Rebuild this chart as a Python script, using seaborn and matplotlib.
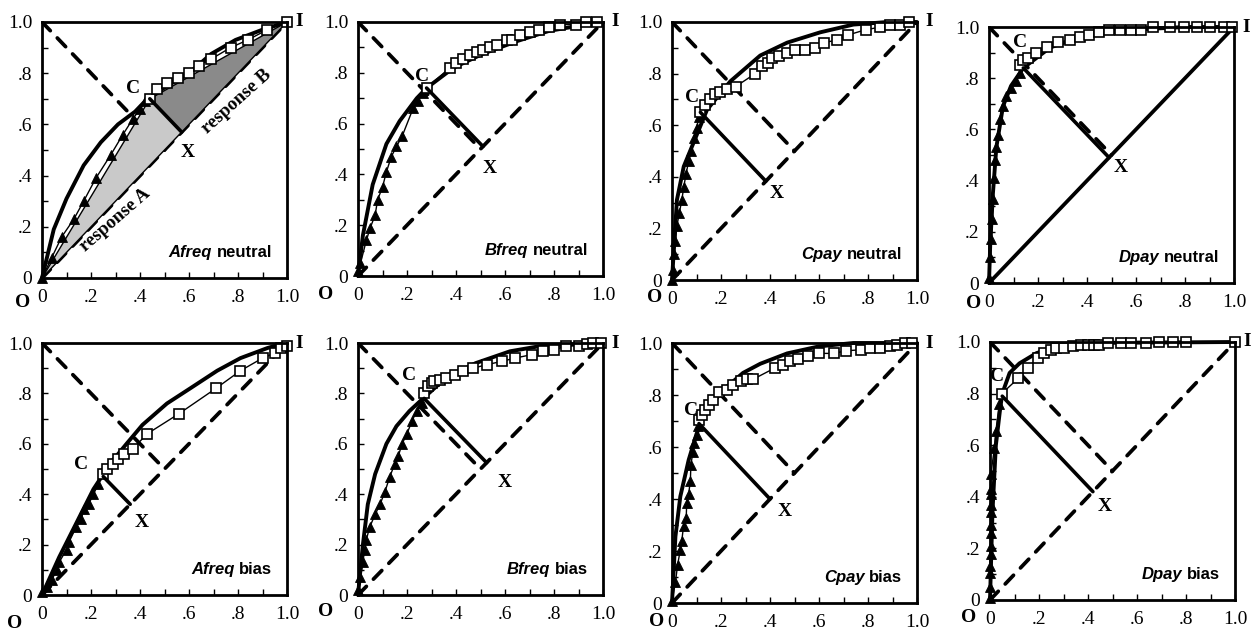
import numpy as np
import matplotlib
matplotlib.use("Agg")
import matplotlib.pyplot as plt
import seaborn as sns

# ---------------- data ----------------
panel_names = ["Afreq", "Bfreq", "Cpay", "Dpay", "Afreq", "Bfreq", "Cpay", "Dpay"]
panel_modes = ["neutral"] * 4 + ["bias"] * 4
tick_vals = [0, 0.2, 0.4, 0.6, 0.8, 1.0]
tick_labels = ["0", ".2", ".4", ".6", ".8", "1.0"]

# Afreq neutral
a_neu_curve_x = [0, 0.048, 0.10, 0.17, 0.24, 0.31, 0.38, 0.43, 0.51, 0.60, 0.69, 0.79, 0.90, 1.0]
a_neu_curve_y = [0, 0.19, 0.31, 0.44, 0.53, 0.60, 0.65, 0.70, 0.75, 0.80, 0.875, 0.93, 0.97, 1.0]
a_neu_tri_x = [0, 0.04, 0.08, 0.13, 0.17, 0.22, 0.28, 0.33, 0.37, 0.40, 0.42]
a_neu_tri_y = [0, 0.08, 0.16, 0.23, 0.30, 0.39, 0.48, 0.56, 0.62, 0.66, 0.69]
a_neu_sq_x = [0.44, 0.47, 0.51, 0.555, 0.60, 0.64, 0.69, 0.77, 0.84, 0.92, 1.0]
a_neu_sq_y = [0.70, 0.74, 0.76, 0.78, 0.80, 0.83, 0.855, 0.90, 0.93, 0.97, 1.0]
a_neu_c = (0.44, 0.70)

# Bfreq neutral
b_neu_curve_x = [0, 0.02, 0.06, 0.116, 0.17, 0.24, 0.28, 0.39, 0.51, 0.65, 0.78, 0.99]
b_neu_curve_y = [0, 0.16, 0.36, 0.52, 0.61, 0.70, 0.74, 0.82, 0.875, 0.925, 0.965, 1.0]
b_neu_tri_x = [0, 0.01, 0.034, 0.05, 0.07, 0.08, 0.10, 0.116, 0.136, 0.157, 0.18, 0.225, 0.245, 0.266]
b_neu_tri_y = [0.02, 0.05, 0.14, 0.19, 0.24, 0.30, 0.35, 0.41, 0.47, 0.51, 0.55, 0.66, 0.69, 0.72]
b_neu_sq_x = [0.28, 0.375, 0.40, 0.43, 0.457, 0.484, 0.51, 0.54, 0.566, 0.61, 0.63, 0.66, 0.70, 0.74, 0.78, 0.825, 0.89, 0.93, 0.975]
b_neu_sq_y = [0.74, 0.82, 0.84, 0.855, 0.87, 0.88, 0.89, 0.90, 0.91, 0.93, 0.93, 0.95, 0.96, 0.97, 0.98, 0.99, 0.99, 1.0, 1.0]
b_neu_c = (0.28, 0.74)

# Cpay neutral
c_neu_curve_x = [0, 0.02, 0.048, 0.10, 0.143, 0.238, 0.36, 0.47, 0.605, 0.74, 0.88, 1.0]
c_neu_curve_y = [0, 0.31, 0.44, 0.56, 0.66, 0.77, 0.87, 0.92, 0.96, 0.99, 1.0, 1.0]
c_neu_tri_x = [0, 0.004, 0.007, 0.014, 0.02, 0.03, 0.04, 0.048, 0.057, 0.068, 0.078, 0.088, 0.10, 0.11]
c_neu_tri_y = [0, 0.04, 0.10, 0.15, 0.21, 0.26, 0.31, 0.36, 0.41, 0.46, 0.50, 0.55, 0.59, 0.63]
c_neu_sq_x = [0.116, 0.136, 0.156, 0.177, 0.197, 0.224, 0.26, 0.34, 0.367, 0.39, 0.41, 0.435, 0.47, 0.50,
              0.544, 0.585, 0.62, 0.673, 0.72, 0.79, 0.85, 0.89, 0.93, 0.966]
c_neu_sq_y = [0.65, 0.68, 0.70, 0.72, 0.73, 0.74, 0.75, 0.80, 0.83, 0.84, 0.86, 0.87, 0.88, 0.89,
              0.89, 0.90, 0.92, 0.93, 0.95, 0.97, 0.98, 0.99, 0.99, 1.0]
c_neu_c = (0.116, 0.65)

# Dpay neutral
d_neu_curve_x = [0, 0.005, 0.016, 0.03, 0.057, 0.09, 0.14, 0.25, 0.40, 0.60, 0.80, 1.0]
d_neu_curve_y = [0, 0.15, 0.35, 0.53, 0.69, 0.77, 0.84, 0.92, 0.97, 0.99, 1.0, 1.0]
d_neu_tri_x = [0, 0.005, 0.01, 0.014, 0.016, 0.02, 0.023, 0.03, 0.037, 0.044, 0.057, 0.071, 0.09, 0.11, 0.126]
d_neu_tri_y = [0.02, 0.10, 0.17, 0.25, 0.33, 0.41, 0.48, 0.53, 0.58, 0.64, 0.69, 0.73, 0.76, 0.79, 0.82]
d_neu_sq_x = [0.126, 0.14, 0.16, 0.19, 0.235, 0.283, 0.33, 0.37, 0.41, 0.45, 0.49, 0.535, 0.58, 0.62,
              0.67, 0.74, 0.795, 0.85, 0.90, 0.96, 0.99]
d_neu_sq_y = [0.85, 0.87, 0.88, 0.90, 0.92, 0.94, 0.95, 0.96, 0.97, 0.98, 0.99, 0.99, 0.99, 0.99,
              1.0, 1.0, 1.0, 1.0, 1.0, 1.0, 1.0]
d_neu_c = (0.14, 0.84)

# Afreq bias
a_bias_curve_x = [0, 0.07, 0.14, 0.21, 0.235, 0.277, 0.345, 0.41, 0.51, 0.605, 0.715, 0.81, 0.92, 0.99]
a_bias_curve_y = [0, 0.15, 0.285, 0.42, 0.457, 0.52, 0.60, 0.675, 0.76, 0.82, 0.89, 0.94, 0.98, 1.0]
a_bias_tri_x = [0, 0.02, 0.04, 0.06, 0.07, 0.10, 0.11, 0.14, 0.16, 0.17, 0.19, 0.21, 0.23]
a_bias_tri_y = [0.01, 0.03, 0.06, 0.10, 0.13, 0.18, 0.21, 0.27, 0.30, 0.34, 0.36, 0.40, 0.44]
a_bias_sq_x = [0.25, 0.266, 0.29, 0.31, 0.334, 0.37, 0.43, 0.56, 0.71, 0.81, 0.90, 0.95, 0.975, 1.0]
a_bias_sq_y = [0.48, 0.50, 0.52, 0.54, 0.56, 0.58, 0.64, 0.72, 0.82, 0.89, 0.94, 0.96, 0.98, 0.99]
a_bias_c = (0.25, 0.47)

# Bfreq bias
b_bias_curve_x = [0, 0.02, 0.04, 0.07, 0.116, 0.157, 0.21, 0.26, 0.35, 0.48, 0.62, 0.757, 0.99]
b_bias_curve_y = [0, 0.20, 0.36, 0.48, 0.60, 0.67, 0.73, 0.775, 0.854, 0.92, 0.967, 0.99, 1.0]
b_bias_tri_x = [0, 0.01, 0.02, 0.027, 0.034, 0.048, 0.07, 0.09, 0.11, 0.13, 0.15, 0.164, 0.18, 0.20, 0.22, 0.24, 0.26]
b_bias_tri_y = [0.02, 0.07, 0.13, 0.18, 0.22, 0.27, 0.32, 0.36, 0.41, 0.47, 0.52, 0.55, 0.60, 0.64, 0.69, 0.73, 0.76]
b_bias_sq_x = [0.27, 0.287, 0.30, 0.31, 0.334, 0.36, 0.396, 0.43, 0.47, 0.525, 0.587, 0.64, 0.71, 0.757,
               0.80, 0.85, 0.90, 0.935, 0.96, 0.99]
b_bias_sq_y = [0.80, 0.83, 0.84, 0.85, 0.854, 0.86, 0.874, 0.887, 0.90, 0.914, 0.927, 0.94, 0.954, 0.967,
               0.974, 0.987, 0.99, 0.997, 1.0, 1.0]
b_bias_c = (0.27, 0.78)

# Cpay bias
c_bias_curve_x = [0, 0.014, 0.034, 0.068, 0.10, 0.14, 0.21, 0.29, 0.36, 0.47, 0.60, 0.74, 1.0]
c_bias_curve_y = [0, 0.256, 0.41, 0.55, 0.65, 0.74, 0.82, 0.885, 0.92, 0.96, 0.987, 1.0, 1.0]
c_bias_tri_x = [0, 0.014, 0.023, 0.034, 0.04, 0.047, 0.058, 0.06, 0.068, 0.075, 0.077, 0.085, 0.09, 0.10, 0.105]
c_bias_tri_y = [0.006, 0.08, 0.147, 0.205, 0.24, 0.295, 0.327, 0.385, 0.42, 0.47, 0.53, 0.58, 0.615, 0.647, 0.68]
c_bias_sq_x = [0.11, 0.122, 0.136, 0.149, 0.167, 0.19, 0.224, 0.25, 0.28, 0.305, 0.33, 0.42, 0.455, 0.48,
               0.515, 0.556, 0.60, 0.66, 0.71, 0.77, 0.81, 0.85, 0.89, 0.92, 0.95, 0.98]
c_bias_sq_y = [0.705, 0.724, 0.744, 0.763, 0.78, 0.81, 0.82, 0.84, 0.853, 0.86, 0.86, 0.904, 0.917, 0.93,
               0.94, 0.95, 0.96, 0.96, 0.97, 0.974, 0.98, 0.98, 0.987, 0.994, 1.0, 1.0]
c_bias_c = (0.11, 0.69)

# Dpay bias
d_bias_curve_x = [0, 0.01, 0.024, 0.04, 0.05, 0.08, 0.12, 0.19, 0.27, 0.34, 1.0]
d_bias_curve_y = [0, 0.34, 0.60, 0.73, 0.80, 0.88, 0.917, 0.957, 0.98, 0.996, 1.0]
d_bias_tri_x = [0, 0, 0.001, 0.002, 0.003, 0.004, 0.004, 0.004, 0.004, 0.004, 0.004, 0.004, 0.004, 0.018, 0.024, 0.038]
d_bias_tri_y = [0.006, 0.05, 0.105, 0.13, 0.18, 0.21, 0.26, 0.29, 0.34, 0.37, 0.41, 0.43, 0.49, 0.59, 0.655, 0.76]
d_bias_sq_x = [0.048, 0.116, 0.154, 0.195, 0.22, 0.25, 0.27, 0.30, 0.337, 0.37, 0.40, 0.426, 0.446, 0.48,
               0.535, 0.575, 0.637, 0.69, 0.745, 0.80, 1.0]
d_bias_sq_y = [0.80, 0.86, 0.90, 0.937, 0.957, 0.97, 0.976, 0.976, 0.983, 0.99, 0.99, 0.99, 0.99, 0.996,
               0.996, 0.996, 0.996, 1.0, 1.0, 1.0, 1.0]
d_bias_c = (0.05, 0.79)

curves = [(a_neu_curve_x, a_neu_curve_y), (b_neu_curve_x, b_neu_curve_y), (c_neu_curve_x, c_neu_curve_y),
          (d_neu_curve_x, d_neu_curve_y), (a_bias_curve_x, a_bias_curve_y), (b_bias_curve_x, b_bias_curve_y),
          (c_bias_curve_x, c_bias_curve_y), (d_bias_curve_x, d_bias_curve_y)]
tris = [(a_neu_tri_x, a_neu_tri_y), (b_neu_tri_x, b_neu_tri_y), (c_neu_tri_x, c_neu_tri_y),
        (d_neu_tri_x, d_neu_tri_y), (a_bias_tri_x, a_bias_tri_y), (b_bias_tri_x, b_bias_tri_y),
        (c_bias_tri_x, c_bias_tri_y), (d_bias_tri_x, d_bias_tri_y)]
sqs = [(a_neu_sq_x, a_neu_sq_y), (b_neu_sq_x, b_neu_sq_y), (c_neu_sq_x, c_neu_sq_y),
       (d_neu_sq_x, d_neu_sq_y), (a_bias_sq_x, a_bias_sq_y), (b_bias_sq_x, b_bias_sq_y),
       (c_bias_sq_x, c_bias_sq_y), (d_bias_sq_x, d_bias_sq_y)]
cpoints = [a_neu_c, b_neu_c, c_neu_c, d_neu_c, a_bias_c, b_bias_c, c_bias_c, d_bias_c]

# ---------------- layout / style ----------------
W, H = 1258, 633
axes_px = [(42, 22, 245, 256), (358, 22, 245, 254), (672, 22, 245, 258), (989, 27, 245, 256),
           (42, 343, 245, 252), (358, 343, 245, 252), (672, 343, 245, 260), (990, 342, 245, 258)]
c_off = [(-17, 10), (-5, 12), (-8, 15), (-3, 25), (-22, 12), (-15, 23), (-8, 13), (-5, 20)]
x_off = [(6, -20), (7, -22), (11, -12), (12, -10), (12, -18), (18, -20), (15, -12), (12, -15)]
o_off = [(-19, -25), (-32, -18), (-17, -17), (-15, -20), (-27, -28), (-32, -17), (-15, -18), (-21, -18)]
solid_diag = [False, False, False, True, False, False, False, False]

sns.set_style("white")
plt.rcParams["font.family"] = ["Liberation Serif", "DejaVu Serif"]
plt.rcParams["text.color"] = "black"
plt.rcParams["xtick.color"] = "black"
plt.rcParams["ytick.color"] = "black"

fig = plt.figure(figsize=(W / 100, H / 100), dpi=100)
fig.patch.set_facecolor("white")

serif = "Liberation Serif"
sans = "Liberation Sans"
px = 0.72  # px -> points

for i in range(8):
    l, t, w, h = axes_px[i]
    ax = fig.add_axes([l / W, 1 - (t + h) / H, w / W, h / H])
    ax.set_xlim(0, 1)
    ax.set_ylim(0, 1)
    cx, cy = cpoints[i]
    xm = (cx + cy) / 2.0

    dash_kw = dict(color="black", lw=2.7, dashes=(3.2, 2.7), dash_capstyle="round", zorder=1)
    ax.plot([0, 0.5], [1, 0.5], **dash_kw)
    if solid_diag[i]:
        ax.plot([0, 1], [0, 1], color="black", lw=2.7, zorder=1)
    else:
        ax.plot([0, 1], [0, 1], **dash_kw)

    if i == 0:
        ax.fill([0, cx, xm], [0, cy, xm], facecolor="#c9c9c9", edgecolor="black", lw=1.0, zorder=1.5)
        ax.fill([cx, 1, xm], [cy, 1, xm], facecolor="#8a8a8a", edgecolor="black", lw=1.0, zorder=1.5)
        ax.text(0.30, 0.225, "response A", rotation=41, ha="center", va="center",
                fontsize=13.5, fontweight="bold", family=serif, zorder=6)
        ax.text(0.795, 0.69, "response B", rotation=42, ha="center", va="center",
                fontsize=13.5, fontweight="bold", family=serif, zorder=6)

    # thick solid curve
    cxs, cys = curves[i]
    sns.lineplot(x=cxs, y=cys, sort=False, estimator=None, color="black", lw=2.8,
                 ax=ax, zorder=3, clip_on=False)
    # triangles (O -> C)
    txs, tys = tris[i]
    sns.lineplot(x=txs, y=tys, sort=False, estimator=None, color="black", lw=1.0,
                 marker="^", markersize=6.5, markeredgewidth=0.6, markerfacecolor="black",
                 markeredgecolor="black", ax=ax, zorder=4, clip_on=False)
    # squares (C -> I)
    sxs, sys_ = sqs[i]
    sns.lineplot(x=sxs, y=sys_, sort=False, estimator=None, color="black", lw=1.0,
                 marker="s", markersize=7, markeredgewidth=1.2, markerfacecolor="white",
                 markeredgecolor="black", ax=ax, zorder=4, clip_on=False)
    # C -> X
    ax.plot([cx, xm], [cy, xm], color="black", lw=2.6, zorder=5, solid_capstyle="round")

    # labels C, X, I, O
    lab_kw = dict(fontsize=14, fontweight="bold", family=serif, ha="center", va="center",
                  textcoords="offset points", zorder=7, annotation_clip=False, color="black")
    ax.annotate("C", xy=(cx, cy), xytext=(c_off[i][0] * px, c_off[i][1] * px), **lab_kw)
    ax.annotate("X", xy=(xm, xm), xytext=(x_off[i][0] * px, x_off[i][1] * px), **lab_kw)
    ax.annotate("I", xy=(1, 1), xytext=(12 * px, 0), **lab_kw)
    ax.annotate("O", xy=(0, 0), xytext=(o_off[i][0] * px, o_off[i][1] * px), **lab_kw)

    # panel title (bottom right)
    t2 = ax.text(0.94, 0.07, panel_modes[i], transform=ax.transAxes, ha="right", va="bottom",
                 fontsize=12, fontweight="bold", family=sans, zorder=7, color="black")
    ax.annotate(panel_names[i], xy=(0, 0), xycoords=t2, xytext=(-3.5, 0), textcoords="offset points",
                ha="right", va="bottom", fontsize=12, fontweight="bold", fontstyle="italic",
                family=sans, zorder=7, color="black")

    # ticks & frame
    ax.set_xticks(tick_vals)
    ax.set_xticklabels(tick_labels)
    ax.set_yticks(tick_vals)
    ax.set_yticklabels(tick_labels)
    ax.set_xticks(np.arange(0.1, 1.0, 0.2), minor=True)
    ax.set_yticks(np.arange(0.1, 1.0, 0.2), minor=True)
    ax.tick_params(which="both", direction="in", length=4, width=1, color="black",
                   top=False, right=False, bottom=True, left=True)
    ax.tick_params(axis="x", which="major", labelsize=14, pad=8)
    ax.tick_params(axis="y", which="major", labelsize=14, pad=7)
    for lab in ax.get_xticklabels() + ax.get_yticklabels():
        lab.set_family(serif)
        lab.set_color("black")
    for sp in ax.spines.values():
        sp.set_color("black")
        sp.set_linewidth(2.0)
        sp.set_zorder(6)
    ax.set_xlabel("")
    ax.set_ylabel("")
    ax.grid(False)
    leg = ax.get_legend()
    if leg is not None:
        leg.remove()

fig.savefig("out.png", dpi=100, facecolor="white")
